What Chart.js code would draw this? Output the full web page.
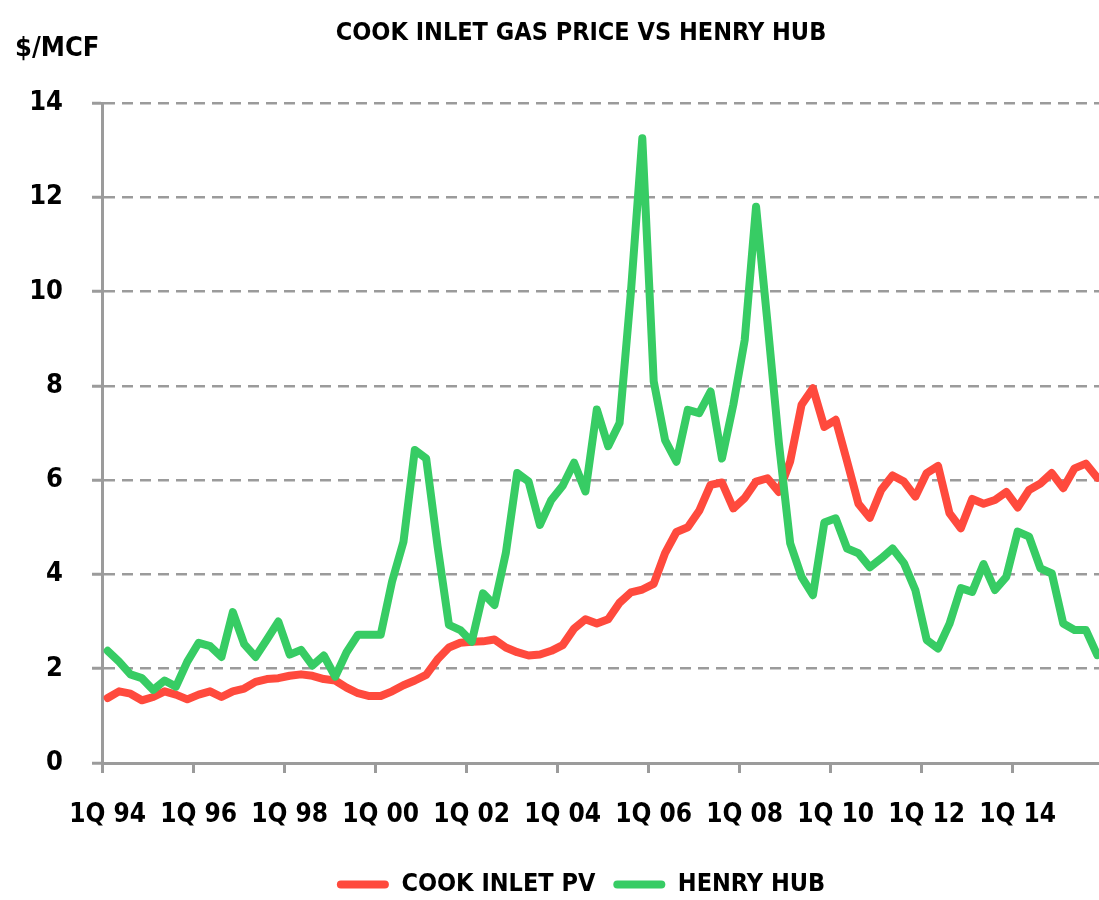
<!DOCTYPE html>
<html>
<head>
<meta charset="utf-8">
<script src="https://cdn.jsdelivr.net/npm/chart.js"></script>
<style>
  html, body { margin: 0; padding: 0; background: #fff; }
  #wrap { width: 1099px; height: 900px; overflow: hidden; }
  canvas { display: block; }
</style>
</head>
<body>
<div id="wrap"><canvas id="gasChart" width="1162" height="907"></canvas></div>
<script>
// quarterly categories 1Q 94 .. 4Q 15
const years = ['94', '95', '96', '97', '98', '99', '00', '01', '02', '03', '04',
               '05', '06', '07', '08', '09', '10', '11', '12', '13', '14', '15'];
const quarters = ['1Q', '2Q', '3Q', '4Q'];
const shownTicks = ['1Q 94', '1Q 96', '1Q 98', '1Q 00', '1Q 02', '1Q 04',
                    '1Q 06', '1Q 08', '1Q 10', '1Q 12', '1Q 14'];

// $/MCF
const cookInlet = [
  1.38, 1.52, 1.47, 1.33, 1.40, 1.52, 1.45, 1.35, 1.45, 1.52, 1.40, 1.52,
  1.58, 1.72, 1.78, 1.80, 1.85, 1.88, 1.85, 1.78, 1.75, 1.60, 1.48, 1.42,
  1.42, 1.52, 1.65, 1.75, 1.87, 2.20, 2.45, 2.55, 2.57, 2.58, 2.62, 2.45,
  2.35, 2.28, 2.30, 2.38, 2.50, 2.85, 3.05, 2.96, 3.05, 3.40, 3.62, 3.68,
  3.80, 4.45, 4.90, 5.00, 5.35, 5.90, 5.95, 5.40, 5.62, 5.97, 6.04, 5.75,
  6.40, 7.60, 7.95, 7.13, 7.28, 6.40, 5.50, 5.20, 5.79, 6.10, 5.97, 5.65,
  6.15, 6.30, 5.30, 4.98, 5.60, 5.50, 5.58, 5.75, 5.42, 5.79, 5.93, 6.15,
  5.83, 6.25, 6.35, 6.05
];
const henryHub = [
  2.38, 2.15, 1.88, 1.80, 1.55, 1.75, 1.62, 2.15, 2.55, 2.48, 2.25, 3.20,
  2.52, 2.25, 2.62, 3.00, 2.30, 2.40, 2.07, 2.28, 1.83, 2.35, 2.72, 2.72,
  2.72, 3.85, 4.69, 6.64, 6.46, 4.60, 2.93, 2.82, 2.57, 3.60, 3.35, 4.45,
  6.15, 5.97, 5.05, 5.58, 5.88, 6.37, 5.76, 7.50, 6.72, 7.21, 10.0, 13.25,
  8.10, 6.85, 6.39, 7.49, 7.42, 7.88, 6.46, 7.60, 8.97, 11.80, 9.35, 6.80,
  4.66, 3.95, 3.56, 5.10, 5.19, 4.55, 4.45, 4.15, 4.34, 4.55, 4.24, 3.67,
  2.61, 2.43, 2.95, 3.71, 3.63, 4.22, 3.67, 3.95, 4.91, 4.80, 4.13, 4.02,
  2.96, 2.82, 2.82, 2.29
];

const FONT = "'DejaVu Sans Condensed', 'Liberation Sans Narrow', sans-serif";
const RED = '#FF4A3D';
const GREEN = '#37CC64';
const GRID = '#9B9B9B';
const unitText = '$/MCF';

const labels = [];
years.forEach(y => quarters.forEach(q => labels.push(q + ' ' + y)));

Chart.defaults.font.family = FONT;
Chart.defaults.font.weight = 'bold';
Chart.defaults.color = '#000';

// "$/MCF" sits top-left, above the value axis
const unitLabel = {
  id: 'unitLabel',
  afterDraw(chart) {
    const c = chart.ctx;
    c.save();
    c.font = 'bold 27px ' + FONT;
    c.fillStyle = '#000';
    c.textAlign = 'left';
    c.textBaseline = 'middle';
    c.fillText(unitText, 15, 49);
    c.restore();
  }
};

const ctx = document.getElementById('gasChart').getContext('2d');
new Chart(ctx, {
  type: 'line',
  data: {
    labels: labels,
    datasets: [{
      label: 'COOK INLET PV',
      data: cookInlet,
      borderColor: RED,
      backgroundColor: RED,
      borderWidth: 8,
      pointRadius: 0,
      borderJoinStyle: 'round',
      borderCapStyle: 'round',
      tension: 0,
      order: 2
    }, {
      label: 'HENRY HUB',
      data: henryHub,
      borderColor: GREEN,
      backgroundColor: GREEN,
      borderWidth: 8,
      pointRadius: 0,
      borderJoinStyle: 'round',
      borderCapStyle: 'round',
      tension: 0,
      order: 1
    }]
  },
  options: {
    responsive: false,
    animation: false,
    layout: { padding: 0 },
    plugins: {
      title: {
        display: true,
        text: 'COOK INLET GAS PRICE VS HENRY HUB',
        font: { size: 25, weight: 'bold' },
        color: '#000',
        padding: { top: 18, bottom: 55 }
      },
      legend: {
        position: 'bottom',
        labels: {
          boxWidth: 52,
          boxHeight: 8,
          padding: 18,
          font: { size: 25, weight: 'bold' },
          color: '#000',
          useBorderRadius: true,
          borderRadius: 4,
          generateLabels: chart => chart.data.datasets.map((ds, i) => ({
            text: ds.label,
            fillStyle: ds.borderColor,
            strokeStyle: ds.borderColor,
            lineWidth: 0,
            hidden: false,
            datasetIndex: i,
            borderRadius: 4
          }))
        }
      },
      tooltip: { enabled: false }
    },
    scales: {
      x: {
        offset: true,
        grid: {
          offset: true,
          drawOnChartArea: false,
          drawTicks: true,
          tickLength: 10,
          lineWidth: 3,
          color: c => (c.index % 8 === 0 ? GRID : 'rgba(0,0,0,0)')
        },
        border: { color: GRID, width: 3 },
        ticks: {
          autoSkip: false,
          maxRotation: 0,
          padding: 27,
          font: { size: 26, weight: 'bold' },
          color: '#000',
          callback: function (v) {
            const l = this.getLabelForValue(v);
            return shownTicks.includes(l) ? l : '';
          }
        },
        afterFit: s => { s.height = 91; }
      },
      y: {
        min: 0,
        max: 14,
        ticks: {
          stepSize: 2,
          padding: 29,
          font: { size: 27, weight: 'bold' },
          color: '#000'
        },
        grid: {
          color: GRID,
          lineWidth: 2.5,
          tickLength: 10,
          tickWidth: 3,
          tickColor: GRID
        },
        border: { color: GRID, width: 3, dash: [11, 7] },
        afterFit: s => { s.width = 102; }
      },
      // empty right-hand axis: keeps title and legend centred as in the original
      spacer: {
        position: 'right',
        display: true,
        grid: { display: false, drawTicks: false },
        border: { display: false },
        ticks: { display: false },
        afterFit: s => { s.width = 59; }
      }
    }
  },
  plugins: [unitLabel]
});
</script>
</body>
</html>
